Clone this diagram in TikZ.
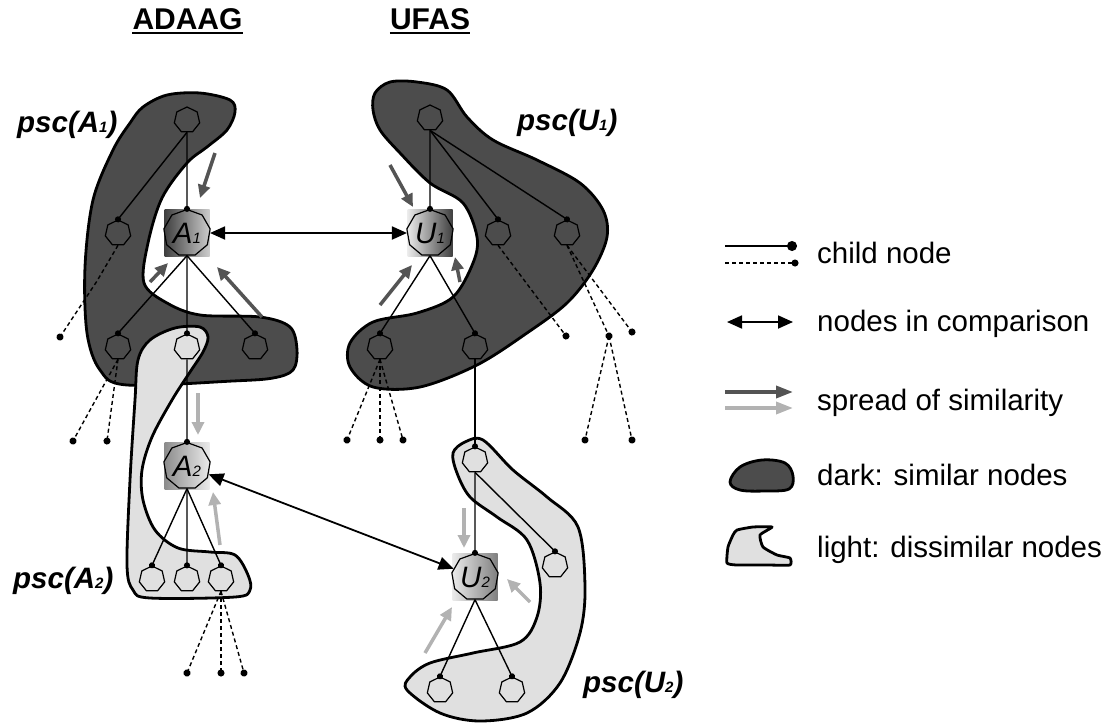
\documentclass[tikz,border=0pt]{standalone}
\usepackage{fontspec}
\setmainfont{Liberation Sans}
\usetikzlibrary{shapes.geometric, arrows.meta}
\newcommand{\smallidx}[1]{{\fontsize{15}{15}\selectfont #1}}

\begin{document}
\begin{tikzpicture}[x=1pt, y=-1pt,
  every node/.style={font=\fontsize{29.5}{32}\selectfont, inner sep=0pt},
  leaf/.style={draw, line width=1.2pt, regular polygon, regular polygon sides=7, minimum size=26pt},
  core/.style={draw, line width=1.2pt, regular polygon, regular polygon sides=9, minimum size=47pt},
  shadebox/.style={minimum width=45pt, minimum height=47pt},
  treeline/.style={line width=1.4pt, -{Circle[length=6pt, width=6pt]}, shorten >=-3pt},
  dashline/.style={line width=1.4pt, dash pattern=on 4pt off 3pt, -{Circle[length=7pt, width=7pt]}, shorten >=-3.5pt},
  darkblob/.style={fill=black!70, draw, line width=2.8pt, line join=round},
  lightblob/.style={fill=black!12, draw, line width=2.8pt, line join=round},
  cmp/.style={line width=1.8pt, {Triangle[length=15pt, width=13pt]}-{Triangle[length=15pt, width=13pt]}},
  spreaddark/.style={draw=black!67, line width=3.5pt, -{Triangle[length=13pt, width=12pt]}},
  spreadlight/.style={draw=black!30, line width=3.5pt, -{Triangle[length=13pt, width=12pt]}},
  pscname/.style={anchor=base west, font=\fontsize{29.5}{32}\selectfont\bfseries\itshape},
  heading/.style={anchor=base, font=\fontsize{30}{32}\selectfont\bfseries}]
\useasboundingbox (0,0) rectangle (1113,723);

% blobs
\draw[darkblob] plot[smooth cycle, tension=0.55] coordinates {
  (143,107) (167,95) (200,93) (230,100) (235,112) (227,130) (207,147)
  (187,163) (162,198) (148,243) (144,283) (167,303) (200,315) (260,317)
  (290,327) (297,350) (293,370) (273,378) (233,381) (127,385) (100,370)
  (87,333) (85,267) (93,200) (113,150) (130,123)};
\draw[lightblob] plot[smooth cycle, tension=0.55] coordinates {
  (150,340) (175,328) (200,327) (208,337) (203,352) (190,372) (172,400)
  (152,437) (142,470) (143,500) (155,530) (178,548) (210,552) (235,555)
  (248,575) (250,590) (235,597) (150,598) (133,590) (127,565) (130,480)
  (135,400) (138,360)};
\draw[darkblob] plot[smooth cycle, tension=0.55] coordinates {
  (375,93) (390,82) (417,82) (447,90) (467,117) (493,140) (537,160)
  (580,183) (603,210) (607,237) (593,270) (567,303) (527,333) (477,365)
  (420,387) (373,387) (350,367) (350,343) (373,322) (417,313) (453,297)
  (473,263) (477,237) (463,203) (430,183) (400,153) (380,130) (373,110)};
\draw[lightblob] plot[smooth cycle, tension=0.55] coordinates {
  (453,453) (465,442) (483,440) (513,470) (547,497) (578,527) (585,587)
  (580,633) (560,683) (527,713) (480,721) (440,713) (407,690) (410,677)
  (430,663) (473,653) (520,642) (537,617) (540,583) (527,540) (497,517)
  (470,497) (457,473)};

% headings and set names
\node[heading] (hadaag) at (187.5,29) {ADAAG};
\node[heading] (hufas) at (430,29) {UFAS};
\draw[line width=2.5pt] ([yshift=-4pt]hadaag.base west) -- ([yshift=-4pt]hadaag.base east);
\draw[line width=2.5pt] ([yshift=-4pt]hufas.base west) -- ([yshift=-4pt]hufas.base east);
\node[pscname] (pscA1) at (17,132) {psc(A\smallidx{1})};
\node[pscname] (pscU1) at (517,130) {psc(U\smallidx{1})};
\node[pscname] (pscA2) at (13,588) {psc(A\smallidx{2})};
\node[pscname] (pscU2) at (583,692) {psc(U\smallidx{2})};

% ADAAG tree
\node[leaf] (ap) at (187,120) {};
\node[leaf] (al) at (118,233) {};
\node[shadebox, left color=black!75, right color=black!20] (A1bg) at (187,233) {};
\node[core] (A1) at (A1bg) {\textit{A}\smallidx{\textit{1}}};
\node[leaf] (ac1) at (118,347) {};
\node[leaf] (ac2) at (187,347) {};
\node[leaf] (ac3) at (255,347) {};
\node[shadebox, left color=black!45, right color=black!8] (A2bg) at (187,466) {};
\node[core] (A2) at (A2bg) {\textit{A}\smallidx{\textit{2}}};
\node[leaf] (ad1) at (152,579) {};
\node[leaf] (ad2) at (187,579) {};
\node[leaf] (ad3) at (221,579) {};
\draw[treeline] (ap.south) -- (al.north);
\draw[treeline] (ap.south) -- (A1.north);
\foreach \c in {ac1,ac2,ac3} \draw[treeline] (A1.south) -- (\c.north);
\draw[treeline] (ac2.south) -- (A2.north);
\foreach \c in {ad1,ad2,ad3} \draw[treeline] (A2.south) -- (\c.north);
\coordinate (alk) at (97,281);
\coordinate (alx) at (60,337);
\draw[dashline] (al.south) -- (alk) -- (alx);
\foreach \n/\x in {1/73,2/107} {
  \coordinate (acx\n) at (\x,441);
  \draw[dashline] (ac1.south) -- (acx\n);
}
\foreach \n/\x in {1/187,2/221,3/244} {
  \coordinate (adx\n) at (\x,673);
  \draw[dashline] (ad3.south) -- (adx\n);
}

% UFAS tree
\node[leaf] (up) at (430,118) {};
\node[shadebox, left color=black!8, right color=black!75] (U1bg) at (430,233) {};
\node[core] (U1) at (U1bg) {\textit{U}\smallidx{\textit{1}}};
\node[leaf] (ur1) at (498,233) {};
\node[leaf] (ur2) at (567,233) {};
\node[leaf] (uc1) at (380,347) {};
\node[leaf] (uc2) at (475,347) {};
\node[leaf] (uq) at (475,460) {};
\node[shadebox, left color=black!8, right color=black!50] (U2bg) at (475,577) {};
\node[core] (U2) at (U2bg) {\textit{U}\smallidx{\textit{2}}};
\node[leaf] (uqr) at (555,565) {};
\node[leaf] (ue1) at (440,690) {};
\node[leaf] (ue2) at (512,690) {};
\foreach \c in {U1,ur1,ur2} \draw[treeline] (up.south) -- (\c.north);
\foreach \c in {uc1,uc2} \draw[treeline] (U1.south) -- (\c.north);
\draw[treeline] (uc2.south) -- (uq.north);
\foreach \c in {U2,uqr} \draw[treeline] (uq.south) -- (\c.north);
\foreach \c in {ue1,ue2} \draw[treeline] (U2.south) -- (\c.north);
\foreach \n/\x in {1/347,2/380,3/403} {
  \coordinate (ucx\n) at (\x,440);
  \draw[dashline] (uc1.south) -- (ucx\n);
}
\coordinate (urx) at (566,336);
\draw[dashline] (ur1.south) -- (urx);
\coordinate (urm) at (609,336);
\coordinate (ury) at (632,332);
\draw[dashline] (ur2.south) -- (urm);
\draw[dashline] (ur2.south) -- (ury);
\foreach \n/\x in {1/585,2/632} {
  \coordinate (urz\n) at (\x,440);
  \draw[dashline] (urm) -- (urz\n);
}

% nodes in comparison
\draw[cmp] (A1) -- (U1);
\draw[cmp] (A2) -- (U2);

% spread of similarity
\foreach \xa/\ya/\xb/\yb in {215/153/200/198, 150/282/168/263, 262/317/217/267,
  390/165/413/207, 380/305/412/265, 460/282/455/257}
  \draw[spreaddark] (\xa,\ya) -- (\xb,\yb);
\foreach \xa/\ya/\xb/\yb in {198/393/198/435, 220/545/213/492, 464/508/464/548,
  530/602/507/579, 425/653/452/607}
  \draw[spreadlight] (\xa,\ya) -- (\xb,\yb);

% legend
\draw[line width=1.4pt, -{Circle[length=10pt, width=10pt]}] (725,246) -- (797,246);
\draw[dashline] (725,263) -- (795,263);
\draw[cmp] (727,322) -- (793,322);
\draw[spreaddark, -{Triangle[length=17pt, width=12pt]}] (725,392) -- (793,392);
\draw[spreadlight, -{Triangle[length=17pt, width=12pt]}] (725,408) -- (793,408);
\draw[darkblob] plot[smooth cycle, tension=0.6] coordinates {
  (730,482) (740,467) (762,460) (785,463) (793,476) (789,489) (765,491) (740,490)};
\draw[lightblob] plot[smooth cycle, tension=0.3] coordinates {
  (737,530) (753,527) (772,527) (760,535) (763,547) (777,555) (790,558)
  (790,565) (767,565) (737,565) (727,563) (728,547) (733,535)};
\node[anchor=base west] (lgchild) at (817,263) {child node};
\node[anchor=base west] (lgcmp) at (817,331) {nodes in comparison};
\node[anchor=base west] (lgspread) at (817,410) {spread of similarity};
\node[anchor=base west] (lgdark) at (817,485) {dark: similar nodes};
\node[anchor=base west] (lglight) at (817,557) {light: dissimilar nodes};
\end{tikzpicture}
\end{document}
